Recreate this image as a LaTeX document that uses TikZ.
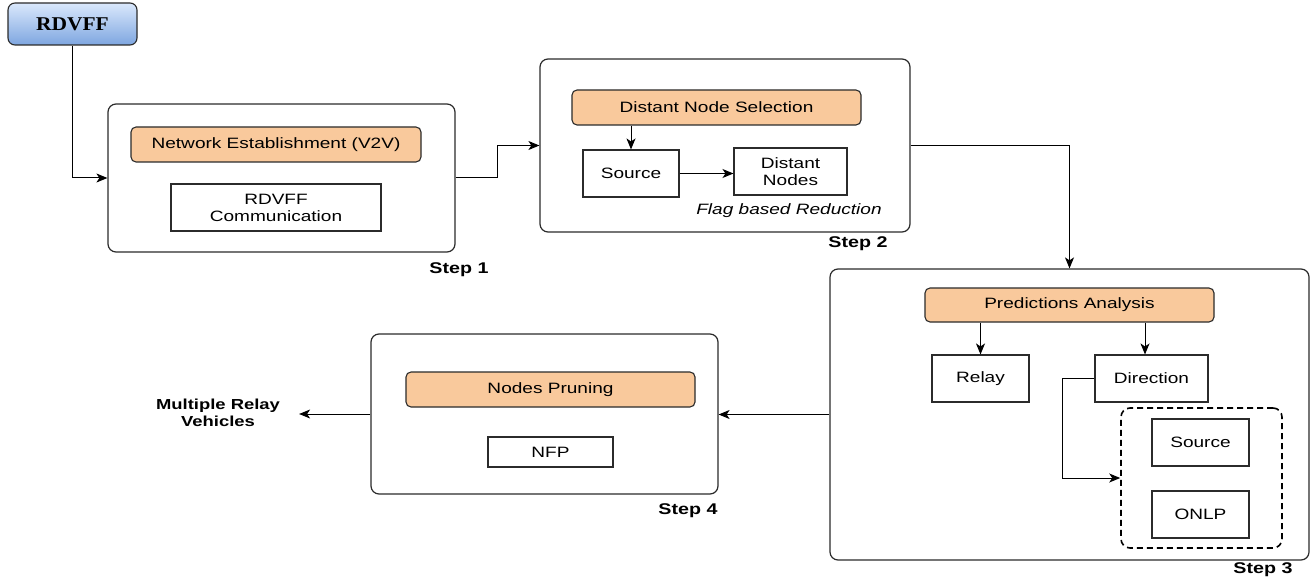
\documentclass[tikz,border=0pt]{standalone}
\usepackage{fontspec}
\setmainfont{Liberation Sans}[FakeStretch=1.27]
\newfontfamily\serifbold{Liberation Serif}[FakeStretch=1.1]
\usetikzlibrary{arrows.meta,calc}
\definecolor{orangefill}{HTML}{F9C99C}
\definecolor{edgegray}{HTML}{2B2B2B}
\definecolor{bluetop}{HTML}{DAE8FC}
\definecolor{bluebot}{HTML}{7EA6E0}
\tikzset{
  stepframe/.style={draw=edgegray, line width=1.2pt, rounded corners=8pt, fill=white},
  phase/.style={draw=edgegray, line width=1.1pt, rounded corners=5pt, fill=orangefill, font=\fontsize{15}{18}\selectfont},
  item/.style={draw=edgegray, line width=1.1pt, fill=white, align=center, font=\fontsize{15}{17}\selectfont},
  steplabel/.style={font=\fontsize{15.5}{18}\selectfont\bfseries},
  conn/.style={draw=black, line width=1pt, -{Stealth[length=11pt,width=9pt,inset=3pt]}},
}
\begin{document}
\begin{tikzpicture}[x=1pt,y=-1pt]
\useasboundingbox (0,0) rectangle (1314,580);

% start node
\node[draw=edgegray, line width=1.1pt, rounded corners=7pt, top color=bluetop, bottom color=bluebot,
      minimum width=129pt, minimum height=42pt, font=\fontsize{19.5}{22}\selectfont\serifbold\bfseries]
  (rdvff) at (72.5,24) {RDVFF};

% Step 1
\node[stepframe, minimum width=347pt, minimum height=148pt] (s1) at (281.5,178) {};
\node[phase, minimum width=290pt, minimum height=35pt] (ne) at (276,144.5) {Network Establishment (V2V)};
\node[item, minimum width=210pt, minimum height=47pt] (comm) at (276,207.5) {RDVFF\\Communication};
\node[steplabel] (l1) at (459,270) {Step 1};

% Step 2
\node[stepframe, minimum width=370pt, minimum height=173pt] (s2) at (725,145.5) {};
\node[phase, minimum width=289pt, minimum height=35pt] (dns) at (716.5,107.5) {Distant Node Selection};
\node[item, minimum width=96pt, minimum height=47pt] (src) at (631,173.5) {Source};
\node[item, minimum width=113pt, minimum height=47pt] (dn) at (790.5,171.5) {Distant\\Nodes};
\node[font=\fontsize{15}{18}\selectfont\itshape] (flag) at (789,211) {Flag based Reduction};
\node[steplabel] (l2) at (858,244) {Step 2};

% Step 3
\node[stepframe, minimum width=479pt, minimum height=291pt] (s3) at (1069.5,414.5) {};
\node[phase, minimum width=289pt, minimum height=34pt] (pa) at (1069.5,305) {Predictions Analysis};
\node[item, minimum width=97pt, minimum height=47pt] (relay) at (980.5,378.5) {Relay};
\node[item, minimum width=113pt, minimum height=47pt] (dir) at (1151.5,378.5) {Direction};
\node[draw=black, line width=1.6pt, dash pattern=on 6pt off 4pt, rounded corners=9pt,
      minimum width=161pt, minimum height=140pt] (grp) at (1201.5,478) {};
\node[item, minimum width=97pt, minimum height=47pt] (src2) at (1200.5,442.5) {Source};
\node[item, minimum width=97pt, minimum height=47pt] (onlp) at (1200.5,514.5) {ONLP};
\node[steplabel] (l3) at (1263,570) {Step 3};

% Step 4
\node[stepframe, minimum width=347pt, minimum height=160pt] (s4) at (544.5,414) {};
\node[phase, minimum width=289pt, minimum height=35pt] (np) at (550.5,389.5) {Nodes Pruning};
\node[item, minimum width=125pt, minimum height=30pt] (nfp) at (550.5,452) {NFP};
\node[steplabel] (l4) at (688,511) {Step 4};

% output
\node[align=center, inner xsep=19pt, font=\fontsize{14.5}{17}\selectfont\bfseries] (out) at (218,413) {Multiple Relay\\Vehicles};

% connectors
\draw[conn] (rdvff.south) |- (s1.west);
\draw[conn] (s1.east) -- ([xshift=42pt]s1.east) |- (s2.west);
\draw[conn] (dns.south -| src.north) -- (src.north);
\draw[conn] (src.east) -- (dn.west |- src.east);
\draw[conn] (s2.east) -| (s3.north);
\draw[conn] (pa.south -| relay.north) -- (relay.north);
\draw[conn] ([xshift=-6.5pt]pa.south -| dir.north) -- ([xshift=-6.5pt]dir.north);
\draw[conn] (dir.west) -- ([xshift=-32pt]dir.west) |- (grp.west);
\draw[conn] (s3.west) -- (s4.east |- s3.west);
\draw[conn] (s4.west) -- (out.east |- s4.west);
\end{tikzpicture}
\end{document}
